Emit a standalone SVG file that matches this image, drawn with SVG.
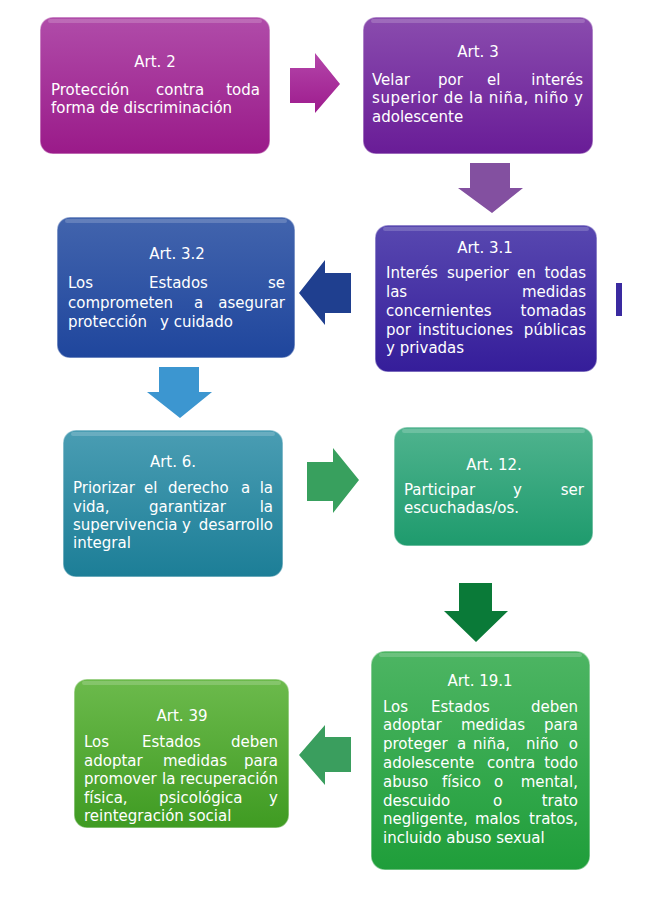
<svg xmlns="http://www.w3.org/2000/svg" width="650" height="900" viewBox="0 0 650 900">
<defs>
<linearGradient id="g1" x1="0" y1="0" x2="0" y2="1"><stop offset="0" stop-color="#b04ca9"/><stop offset="1" stop-color="#9a1a89"/></linearGradient>
<linearGradient id="g2" x1="0" y1="0" x2="0" y2="1"><stop offset="0" stop-color="#8a4cae"/><stop offset="1" stop-color="#691c97"/></linearGradient>
<linearGradient id="g3" x1="0" y1="0" x2="0" y2="1"><stop offset="0" stop-color="#5848b0"/><stop offset="1" stop-color="#351d9a"/></linearGradient>
<linearGradient id="g4" x1="0" y1="0" x2="0" y2="1"><stop offset="0" stop-color="#4264ad"/><stop offset="1" stop-color="#1f469d"/></linearGradient>
<linearGradient id="g5" x1="0" y1="0" x2="0" y2="1"><stop offset="0" stop-color="#4a9db3"/><stop offset="1" stop-color="#1c7e97"/></linearGradient>
<linearGradient id="g6" x1="0" y1="0" x2="0" y2="1"><stop offset="0" stop-color="#4fb38e"/><stop offset="1" stop-color="#1e9b6d"/></linearGradient>
<linearGradient id="g7" x1="0" y1="0" x2="0" y2="1"><stop offset="0" stop-color="#4db563"/><stop offset="1" stop-color="#1f9e3a"/></linearGradient>
<linearGradient id="g8" x1="0" y1="0" x2="0" y2="1"><stop offset="0" stop-color="#6cba4c"/><stop offset="1" stop-color="#3f9b22"/></linearGradient>
<linearGradient id="ga" x1="0" y1="0" x2="0" y2="1"><stop offset="0" stop-color="#b446aa"/><stop offset="1" stop-color="#9d1b8d"/></linearGradient>
</defs>
<style>
.box{stroke:#ffffff;stroke-opacity:0.45;stroke-width:1.5}
.hl{fill:#ffffff;fill-opacity:0.18}
.t{font-family:'DejaVu Sans','Liberation Sans',sans-serif;font-size:15px;fill:#ffffff}
.c{text-anchor:middle}
.e{text-anchor:end}
</style>
<rect width="650" height="900" fill="#ffffff"/>

<g id="connectors">
<polygon points="290,68 315,68 315,53 340,84 315,113 315,103 290,103" fill="url(#ga)"/>
<polygon points="470,163 510,163 510,188 523,188 492,213 458,188 470,188" fill="#8350a0"/>
<polygon points="351,273 325,273 325,260 299,293 325,325 325,313 351,313" fill="#1f3f8f"/>
<rect x="616" y="283" width="6" height="33" fill="#3a2aa0"/>
<polygon points="159,367 199,367 199,392 212,392 180,418 147,392 159,392" fill="#3c96d0"/>
<polygon points="307,462 333,462 333,448 359,480 333,513 333,501 307,501" fill="#38a05e"/>
<polygon points="459,583 492,583 492,611 508,611 476,642 444,611 459,611" fill="#0a7a38"/>
<polygon points="351,737 325,737 325,725 299,755 325,785 325,772 351,772" fill="#3a9e5e"/>
</g>

<g id="art2">
<rect class="box" x="40" y="17" width="230" height="137" rx="13" fill="url(#g1)"/>
<rect class="hl" x="48" y="19" width="214" height="4" rx="2"/>
<text class="t c" x="155" y="67">Art. 2</text>
<text class="t" y="95"><tspan x="51">Protección</tspan> <tspan x="156">contra</tspan> <tspan class="e" x="260">toda</tspan></text>
<text class="t" x="51" y="113">forma de discriminación</text>
</g>

<g id="art3">
<rect class="box" x="363" y="17" width="230" height="137" rx="13" fill="url(#g2)"/>
<rect class="hl" x="371" y="19" width="214" height="4" rx="2"/>
<text class="t c" x="478" y="57">Art. 3</text>
<text class="t" y="85"><tspan x="372">Velar</tspan> <tspan x="438">por</tspan> <tspan x="487">el</tspan> <tspan class="e" x="583">interés</tspan></text>
<text class="t" x="372" y="103" textLength="211" lengthAdjust="spacing">superior de la niña, niño y</text>
<text class="t" x="372" y="122">adolescente</text>
</g>

<g id="art3-1">
<rect class="box" x="375" y="225" width="222" height="147" rx="13" fill="url(#g3)"/>
<rect class="hl" x="383" y="227" width="206" height="4" rx="2"/>
<text class="t c" x="485" y="253">Art. 3.1</text>
<text class="t" y="278"><tspan x="386">Interés</tspan> <tspan x="447">superior</tspan> <tspan x="517">en</tspan> <tspan class="e" x="586">todas</tspan></text>
<text class="t" y="297"><tspan x="386">las</tspan> <tspan class="e" x="586">medidas</tspan></text>
<text class="t" y="316"><tspan x="386">concernientes</tspan> <tspan class="e" x="586">tomadas</tspan></text>
<text class="t" y="335"><tspan x="386">por</tspan> <tspan x="418">instituciones</tspan> <tspan class="e" x="586">públicas</tspan></text>
<text class="t" x="386" y="353">y privadas</text>
</g>

<g id="art3-2">
<rect class="box" x="57" y="217" width="238" height="141" rx="13" fill="url(#g4)"/>
<rect class="hl" x="65" y="219" width="222" height="4" rx="2"/>
<text class="t c" x="177" y="259">Art. 3.2</text>
<text class="t" y="288"><tspan x="68">Los</tspan> <tspan x="149">Estados</tspan> <tspan class="e" x="285">se</tspan></text>
<text class="t" y="308"><tspan x="68">comprometen</tspan> <tspan x="194">a</tspan> <tspan class="e" x="285">asegurar</tspan></text>
<text class="t" y="327"><tspan x="68">protección</tspan> <tspan x="160">y cuidado</tspan></text>
</g>

<g id="art6">
<rect class="box" x="63" y="430" width="220" height="147" rx="13" fill="url(#g5)"/>
<rect class="hl" x="71" y="432" width="204" height="4" rx="2"/>
<text class="t c" x="173" y="467">Art. 6.</text>
<text class="t" y="493"><tspan x="73">Priorizar</tspan> <tspan x="144">el</tspan> <tspan x="168">derecho</tspan> <tspan x="241">a</tspan> <tspan class="e" x="273">la</tspan></text>
<text class="t" y="512"><tspan x="73">vida,</tspan> <tspan x="149">garantizar</tspan> <tspan class="e" x="273">la</tspan></text>
<text class="t" y="530"><tspan x="73">supervivencia</tspan> <tspan x="182">y</tspan> <tspan class="e" x="273">desarrollo</tspan></text>
<text class="t" x="73" y="548">integral</text>
</g>

<g id="art12">
<rect class="box" x="394" y="427" width="199" height="119" rx="13" fill="url(#g6)"/>
<rect class="hl" x="402" y="429" width="183" height="4" rx="2"/>
<text class="t c" x="494" y="470">Art. 12.</text>
<text class="t" y="495"><tspan x="404">Participar</tspan> <tspan x="513">y</tspan> <tspan class="e" x="584">ser</tspan></text>
<text class="t" x="404" y="513">escuchadas/os.</text>
</g>

<g id="art19-1">
<rect class="box" x="371" y="651" width="219" height="219" rx="14" fill="url(#g7)"/>
<rect class="hl" x="379" y="653" width="203" height="4" rx="2"/>
<text class="t c" x="480" y="686">Art. 19.1</text>
<text class="t" y="712"><tspan x="383">Los</tspan> <tspan x="431">Estados</tspan> <tspan class="e" x="578">deben</tspan></text>
<text class="t" y="730"><tspan x="383">adoptar</tspan> <tspan x="461">medidas</tspan> <tspan class="e" x="578">para</tspan></text>
<text class="t" y="749"><tspan x="383">proteger</tspan> <tspan x="457">a</tspan> <tspan x="473">niña,</tspan> <tspan x="526">niño</tspan> <tspan class="e" x="578">o</tspan></text>
<text class="t" y="768"><tspan x="383">adolescente</tspan> <tspan x="487">contra</tspan> <tspan class="e" x="578">todo</tspan></text>
<text class="t" y="787"><tspan x="383">abuso</tspan> <tspan x="442">físico</tspan> <tspan x="494">o</tspan> <tspan class="e" x="578">mental,</tspan></text>
<text class="t" y="806"><tspan x="383">descuido</tspan> <tspan x="493">o</tspan> <tspan class="e" x="578">trato</tspan></text>
<text class="t" y="824"><tspan x="383">negligente,</tspan> <tspan x="475">malos</tspan> <tspan class="e" x="578">tratos,</tspan></text>
<text class="t" x="383" y="843">incluido abuso sexual</text>
</g>

<g id="art39">
<rect class="box" x="74" y="679" width="215" height="149" rx="13" fill="url(#g8)"/>
<rect class="hl" x="82" y="681" width="199" height="4" rx="2"/>
<text class="t c" x="182" y="721">Art. 39</text>
<text class="t" y="747"><tspan x="84">Los</tspan> <tspan x="142">Estados</tspan> <tspan class="e" x="278">deben</tspan></text>
<text class="t" y="766"><tspan x="84">adoptar</tspan> <tspan x="163">medidas</tspan> <tspan class="e" x="278">para</tspan></text>
<text class="t" y="784"><tspan x="84">promover</tspan> <tspan x="162">la</tspan> <tspan class="e" x="278">recuperación</tspan></text>
<text class="t" y="803"><tspan x="84">física,</tspan> <tspan x="159">psicológica</tspan> <tspan class="e" x="278">y</tspan></text>
<text class="t" x="84" y="821">reintegración social</text>
</g>
</svg>
